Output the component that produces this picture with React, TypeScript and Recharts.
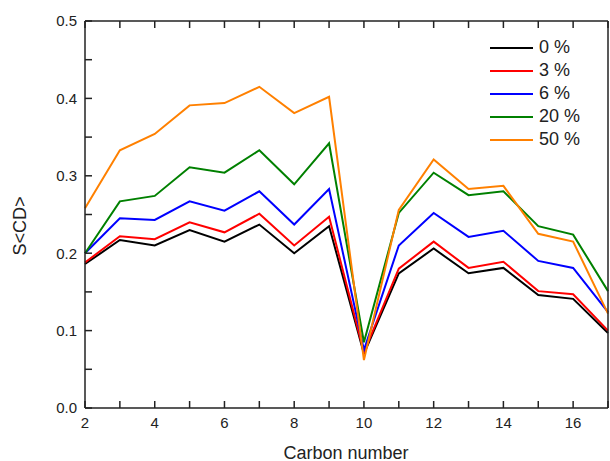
import React from 'react';
import { LineChart, Line, XAxis, YAxis } from 'recharts';

const carbon = [2, 3, 4, 5, 6, 7, 8, 9, 10, 11, 12, 13, 14, 15, 16, 17];
const s0 = [0.186, 0.217, 0.21, 0.23, 0.215, 0.237, 0.2, 0.235, 0.07, 0.174, 0.206, 0.174, 0.181, 0.146, 0.141, 0.097];
const s3 = [0.188, 0.222, 0.218, 0.24, 0.227, 0.251, 0.21, 0.247, 0.072, 0.18, 0.215, 0.181, 0.189, 0.151, 0.147, 0.1];
const s6 = [0.2, 0.245, 0.243, 0.267, 0.255, 0.28, 0.237, 0.283, 0.075, 0.21, 0.252, 0.221, 0.229, 0.19, 0.181, 0.124];
const s20 = [0.2, 0.267, 0.274, 0.311, 0.304, 0.333, 0.289, 0.342, 0.085, 0.252, 0.304, 0.275, 0.28, 0.235, 0.224, 0.151];
const s50 = [0.258, 0.333, 0.354, 0.391, 0.394, 0.415, 0.381, 0.402, 0.062, 0.256, 0.321, 0.283, 0.287, 0.225, 0.215, 0.122];

const xTicks = [2, 3, 4, 5, 6, 7, 8, 9, 10, 11, 12, 13, 14, 15, 16, 17];
const yTicks = [0, 0.05, 0.1, 0.15, 0.2, 0.25, 0.3, 0.35, 0.4, 0.45, 0.5];

const series = [
  { key: 's0', name: '0 %', color: '#000000' },
  { key: 's3', name: '3 %', color: '#ff0000' },
  { key: 's6', name: '6 %', color: '#0000ff' },
  { key: 's20', name: '20 %', color: '#008000' },
  { key: 's50', name: '50 %', color: '#ff8000' },
];

const data = carbon.map((c, i) => ({ carbon: c, s0: s0[i], s3: s3[i], s6: s6[i], s20: s20[i], s50: s50[i] }));

const FONT = '"Liberation Sans", Arial, sans-serif';
const AXIS = '#222222';
const tickStyle = { fontSize: 15, fill: AXIS, fontFamily: FONT };

const fmtY = (v: number) => (Math.round(v * 100) % 10 === 0 ? v.toFixed(1) : '');
const fmtX = (v: number) => (v % 2 === 0 ? String(v) : '');
const blank = () => '';

export default function App() {
  return (
    <div style={{ position: 'absolute', left: 0, top: 0, width: 610, height: 461, background: '#fff', fontFamily: FONT, color: AXIS }}>
      <LineChart width={610} height={461} data={data} margin={{ top: 14, right: 0, bottom: 0, left: 0 }}>
        <XAxis
          dataKey="carbon"
          type="number"
          domain={[2, 17]}
          ticks={xTicks}
          interval={0}
          tickFormatter={fmtX}
          tickSize={-7}
          tickMargin={16}
          height={53}
          stroke={AXIS}
          strokeWidth={1.5}
          tick={tickStyle}
        />
        <XAxis
          xAxisId="top"
          orientation="top"
          dataKey="carbon"
          type="number"
          domain={[2, 17]}
          ticks={xTicks}
          interval={0}
          tickFormatter={blank}
          tickSize={-7}
          height={7}
          stroke={AXIS}
          strokeWidth={1.5}
        />
        <YAxis
          type="number"
          domain={[0, 0.5]}
          ticks={yTicks}
          interval={0}
          tickFormatter={fmtY}
          tickSize={-7}
          tickMargin={15}
          width={85}
          stroke={AXIS}
          strokeWidth={1.5}
          tick={tickStyle}
        />
        <YAxis
          yAxisId="right"
          orientation="right"
          type="number"
          domain={[0, 0.5]}
          ticks={yTicks}
          interval={0}
          tickFormatter={blank}
          tickSize={-7}
          width={2}
          stroke={AXIS}
          strokeWidth={1.5}
        />
        {series.map(s => (
          <Line
            key={s.key}
            dataKey={s.key}
            name={s.name}
            type="linear"
            stroke={s.color}
            strokeWidth={2}
            dot={false}
            activeDot={false}
            isAnimationActive={false}
          />
        ))}
      </LineChart>

      {/* legend */}
      <div style={{ position: 'absolute', top: 36, left: 490, fontSize: 18 }}>
        {series.map(s => (
          <div key={s.key} style={{ display: 'flex', alignItems: 'center', height: 23 }}>
            <span style={{ display: 'inline-block', width: 43, height: 2, background: s.color, marginRight: 6 }} />
            <span>{s.name}</span>
          </div>
        ))}
      </div>

      {/* axis titles */}
      <div style={{ position: 'absolute', left: 246, top: 444, width: 200, textAlign: 'center', fontSize: 18, lineHeight: '18px' }}>
        Carbon number
      </div>
      <div style={{ position: 'absolute', left: 20, top: 226, fontSize: 18, lineHeight: '18px', whiteSpace: 'nowrap', transform: 'translate(-50%, -50%) rotate(-90deg)' }}>
        S&lt;CD&gt;
      </div>
    </div>
  );
}
